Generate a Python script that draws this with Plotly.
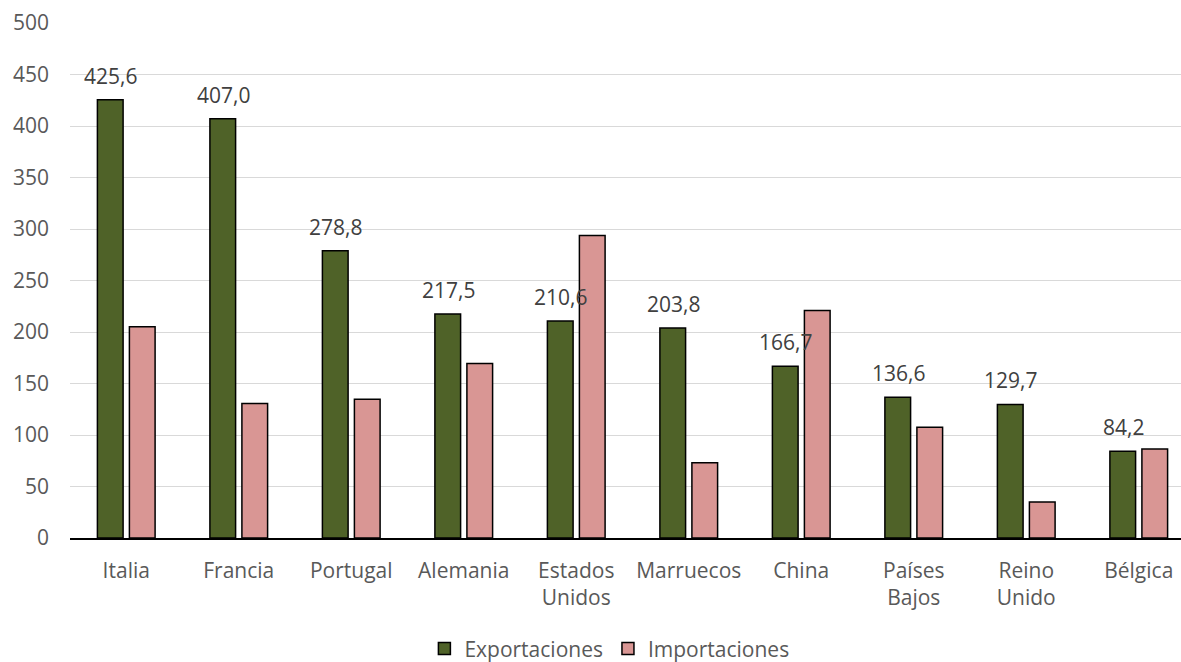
import plotly.graph_objects as go

categories = ["Italia", "Francia", "Portugal", "Alemania", "Estados<br>Unidos",
              "Marruecos", "China", "Países<br>Bajos", "Reino<br>Unido", "Bélgica"]
exportaciones = [425.6, 407.0, 278.8, 217.5, 210.6, 203.8, 166.7, 136.6, 129.7, 84.2]
importaciones = [205.0, 130.5, 134.8, 169.5, 293.8, 73.0, 220.8, 107.5, 35.0, 86.5]
y_ticks = [0, 50, 100, 150, 200, 250, 300, 350, 400, 450, 500]

FONT = "Open Sans"
FS = 21
fig = go.Figure()
fig.add_trace(go.Bar(name="Exportaciones", x=categories, y=exportaciones,
                     marker=dict(color="#4F6228", line=dict(color="#000000", width=1.5))))
fig.add_trace(go.Bar(name="Importaciones", x=categories, y=importaciones,
                     marker=dict(color="#D99694", line=dict(color="#000000", width=1.5))))

for c, v in zip(categories, exportaciones):
    fig.add_annotation(x=c, y=v, xref="x", yref="y", text=f"{v:.1f}".replace(".", ","),
                       showarrow=False, xshift=-15.7, yshift=24, yanchor="middle",
                       font=dict(family=FONT, size=FS, color="#404040"))

fig.update_layout(
    width=1181, height=662,
    margin=dict(l=70, r=0, t=23, b=124),
    paper_bgcolor="white", plot_bgcolor="white",
    barmode="group", bargap=0.431, bargroupgap=0.197,
    separators=",.",
    font=dict(family=FONT, size=FS, color="#595959"),
    showlegend=True,
    legend=dict(orientation="h", xref="container", x=0.516, xanchor="center",
                yref="container", y=0.02, yanchor="middle",
                font=dict(family=FONT, size=FS, color="#595959"),
                itemwidth=30, tracegroupgap=0),
    xaxis=dict(range=[-0.5, 9.3756], showgrid=False, showline=True,
               linecolor="#000000", linewidth=1.5, ticks="", ticklabelstandoff=13,
               tickfont=dict(size=FS, color="#595959")),
    yaxis=dict(range=[0, 500], tickvals=y_ticks, showgrid=True, gridcolor="#D9D9D9",
               gridwidth=1.3, zeroline=False, showline=False, ticks="",
               ticklabelstandoff=20, tickfont=dict(size=FS, color="#595959")),
)

fig.write_html("out.html", config={"displayModeBar": False},
               post_script="document.body.style.margin='0';document.body.style.overflow='hidden';")
